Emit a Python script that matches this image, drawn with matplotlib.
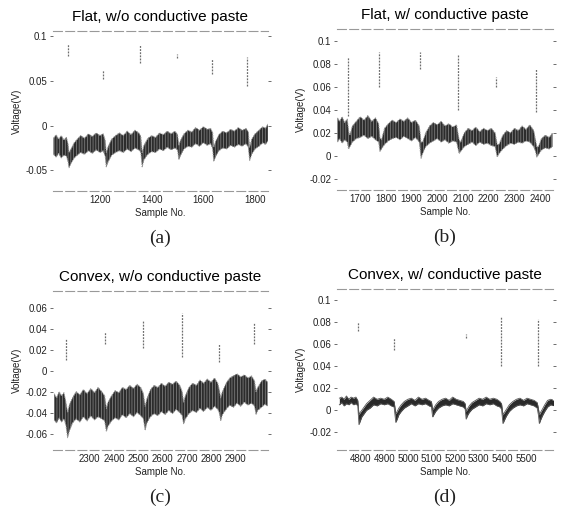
import matplotlib
matplotlib.use("Agg")
import matplotlib.pyplot as plt

# ---------------- data ----------------
titles = ["Flat, w/o conductive paste", "Flat, w/ conductive paste",
          "Convex, w/o conductive paste", "Convex, w/ conductive paste"]
letters = ["(a)", "(b)", "(c)", "(d)"]

# Panel (a)
a_x = [1020,1030,1040,1050,1060,1070,1076,1080,1088,1100,1112,1125,1140,1155,1170,1185,1200,1212,1220,1224,
       1232,1245,1260,1275,1290,1305,1320,1335,1350,1358,1363,1370,1385,1400,1415,1430,1445,1460,1475,1490,
       1500,1505,1512,1525,1540,1555,1570,1585,1600,1615,1628,1636,1640,1648,1660,1675,1690,1705,1720,1735,
       1750,1765,1774,1779,1787,1800,1815,1830,1840,1850]
a_lo = [-0.032,-0.035,-0.031,-0.036,-0.033,-0.034,-0.040,-0.047,-0.042,-0.036,-0.033,-0.030,-0.032,-0.028,-0.031,-0.027,-0.030,-0.028,-0.034,-0.046,
        -0.040,-0.033,-0.030,-0.028,-0.030,-0.026,-0.029,-0.025,-0.027,-0.030,-0.046,-0.038,-0.032,-0.029,-0.030,-0.026,-0.028,-0.024,-0.027,-0.025,
        -0.027,-0.038,-0.033,-0.026,-0.023,-0.024,-0.020,-0.023,-0.019,-0.022,-0.020,-0.026,-0.040,-0.034,-0.028,-0.025,-0.026,-0.022,-0.024,-0.021,
        -0.023,-0.020,-0.024,-0.039,-0.032,-0.026,-0.023,-0.019,-0.021,-0.017]
a_hi = [-0.014,-0.010,-0.015,-0.011,-0.016,-0.013,-0.020,-0.030,-0.026,-0.019,-0.015,-0.011,-0.014,-0.009,-0.012,-0.008,-0.011,-0.009,-0.016,-0.030,
        -0.023,-0.015,-0.011,-0.008,-0.011,-0.006,-0.010,-0.005,-0.008,-0.012,-0.030,-0.022,-0.014,-0.011,-0.013,-0.008,-0.010,-0.006,-0.009,-0.006,
        -0.010,-0.022,-0.016,-0.009,-0.005,-0.007,-0.002,-0.005,-0.001,-0.004,-0.003,-0.008,-0.024,-0.017,-0.010,-0.006,-0.008,-0.004,-0.006,-0.002,
        -0.005,-0.003,-0.007,-0.024,-0.015,-0.009,-0.005,-0.001,-0.003,0.002]
a_spike_x = [1076, 1213, 1355, 1497, 1632, 1770]
a_spike_lo = [0.078, 0.052, 0.070, 0.076, 0.058, 0.045]
a_spike_hi = [0.092, 0.062, 0.090, 0.080, 0.075, 0.077]

# Panel (b)
b_x = [1612,1620,1630,1640,1650,1655,1660,1670,1685,1700,1715,1730,1745,1760,1772,1777,1783,1795,1810,1825,
       1840,1855,1870,1885,1900,1915,1930,1937,1943,1955,1970,1985,2000,2015,2030,2045,2060,2075,2085,2091,
       2105,2120,2135,2150,2165,2180,2195,2210,2225,2233,2240,2255,2270,2285,2300,2315,2330,2345,2360,2375,
       2382,2387,2393,2405,2420,2435,2448]
b_lo = [0.012,0.015,0.011,0.014,0.012,0.006,0.008,0.012,0.015,0.016,0.018,0.015,0.017,0.014,0.012,0.004,0.006,0.010,0.013,0.015,
        0.016,0.014,0.017,0.015,0.013,0.016,0.012,-0.002,0.002,0.008,0.011,0.013,0.015,0.012,0.014,0.011,0.013,0.012,0.002,0.004,
        0.008,0.010,0.012,0.009,0.012,0.010,0.011,0.009,0.008,-0.001,0.002,0.006,0.009,0.011,0.010,0.012,0.011,0.013,0.012,0.008,
        0.004,-0.001,0.001,0.005,0.007,0.006,0.008]
b_hi = [0.033,0.030,0.034,0.029,0.032,0.022,0.018,0.026,0.030,0.034,0.031,0.035,0.030,0.033,0.028,0.016,0.014,0.024,0.028,0.031,
        0.029,0.032,0.030,0.033,0.029,0.031,0.026,0.012,0.012,0.020,0.026,0.029,0.027,0.030,0.026,0.028,0.025,0.027,0.014,0.012,
        0.020,0.024,0.022,0.025,0.021,0.024,0.022,0.024,0.020,0.010,0.010,0.018,0.022,0.020,0.024,0.022,0.026,0.023,0.027,0.022,
        0.014,0.008,0.008,0.015,0.018,0.016,0.020]
b_spike_x = [1652, 1774, 1932, 2081, 2229, 2383]
b_spike_lo = [0.035, 0.060, 0.075, 0.040, 0.060, 0.038]
b_spike_hi = [0.086, 0.090, 0.090, 0.088, 0.068, 0.075]

# Panel (c)
c_x = [2155,2165,2175,2185,2195,2203,2210,2218,2230,2245,2260,2275,2290,2305,2320,2335,2350,2362,2369,2376,
       2390,2405,2420,2435,2450,2465,2480,2495,2510,2521,2528,2535,2550,2565,2580,2595,2610,2625,2640,2655,
       2670,2680,2686,2693,2708,2723,2738,2753,2768,2783,2798,2813,2826,2832,2838,2845,2860,2875,2890,2905,
       2920,2935,2950,2965,2977,2983,2990,3005,3020,3030]
c_lo = [-0.047,-0.050,-0.045,-0.049,-0.046,-0.052,-0.064,-0.057,-0.050,-0.046,-0.049,-0.044,-0.048,-0.043,-0.047,-0.044,-0.046,-0.048,-0.058,-0.053,
        -0.048,-0.045,-0.047,-0.042,-0.045,-0.041,-0.044,-0.040,-0.043,-0.046,-0.057,-0.050,-0.044,-0.041,-0.043,-0.039,-0.042,-0.038,-0.041,-0.037,
        -0.040,-0.043,-0.051,-0.046,-0.041,-0.038,-0.040,-0.036,-0.039,-0.035,-0.038,-0.034,-0.037,-0.040,-0.048,-0.042,-0.037,-0.033,-0.035,-0.031,
        -0.034,-0.030,-0.033,-0.031,-0.034,-0.042,-0.038,-0.035,-0.032,-0.034]
c_hi = [-0.022,-0.026,-0.020,-0.024,-0.021,-0.030,-0.040,-0.032,-0.026,-0.020,-0.023,-0.018,-0.022,-0.017,-0.021,-0.016,-0.020,-0.024,-0.036,-0.030,
        -0.024,-0.019,-0.021,-0.016,-0.018,-0.014,-0.017,-0.013,-0.016,-0.022,-0.034,-0.027,-0.018,-0.014,-0.016,-0.012,-0.015,-0.011,-0.013,-0.010,
        -0.014,-0.020,-0.030,-0.024,-0.016,-0.012,-0.014,-0.009,-0.012,-0.008,-0.011,-0.007,-0.012,-0.018,-0.026,-0.020,-0.012,-0.007,-0.005,-0.003,
        -0.006,-0.004,-0.007,-0.005,-0.010,-0.020,-0.016,-0.010,-0.008,-0.011]
c_spike_x = [2203, 2362, 2521, 2679, 2831, 2976]
c_spike_lo = [0.010, 0.025, 0.022, 0.013, 0.008, 0.025]
c_spike_hi = [0.030, 0.037, 0.047, 0.055, 0.025, 0.045]

# Panel (d)
d_x = [4710,4720,4730,4740,4750,4760,4770,4780,4788,4793,4798,4805,4815,4825,4840,4855,4870,4885,4900,4915,
       4930,4942,4949,4955,4962,4972,4985,5000,5015,5030,5045,5060,5075,5090,5100,5105,5110,5118,5130,5145,
       5160,5175,5190,5205,5220,5235,5243,5247,5252,5260,5272,5287,5302,5317,5332,5347,5362,5377,5390,5397,
       5403,5409,5418,5430,5445,5460,5475,5490,5505,5520,5535,5548,5553,5557,5562,5570,5580,5592,5605,5620,
       5635,5650,5665]
d_lo = [0.005,0.007,0.004,0.006,0.005,0.007,0.005,0.006,0.004,-0.013,-0.010,-0.006,-0.003,0.000,0.002,0.005,0.004,0.006,0.005,0.006,
        0.004,0.003,-0.011,-0.008,-0.004,-0.001,0.002,0.004,0.006,0.004,0.006,0.005,0.006,0.004,0.003,-0.006,-0.004,-0.001,0.002,0.004,
        0.005,0.004,0.006,0.005,0.004,0.003,0.001,-0.008,-0.005,-0.002,0.001,0.003,0.005,0.004,0.006,0.005,0.006,0.004,0.003,0.001,
        -0.012,-0.009,-0.005,-0.001,0.002,0.004,0.005,0.004,0.006,0.005,0.004,0.002,-0.004,-0.012,-0.009,-0.005,-0.001,0.003,0.005,0.004,
        0.006,0.005,0.004]
d_hi = [0.011,0.012,0.010,0.013,0.010,0.012,0.011,0.012,0.009,-0.004,-0.002,0.000,0.003,0.006,0.009,0.012,0.010,0.011,0.010,0.012,
        0.010,0.008,-0.003,-0.001,0.002,0.005,0.008,0.010,0.011,0.009,0.012,0.010,0.011,0.009,0.008,0.001,0.002,0.005,0.008,0.010,
        0.011,0.009,0.012,0.010,0.009,0.008,0.006,-0.001,0.001,0.004,0.007,0.009,0.011,0.010,0.012,0.010,0.011,0.010,0.008,0.006,
        -0.004,-0.002,0.001,0.005,0.008,0.010,0.011,0.009,0.011,0.010,0.009,0.007,0.002,-0.004,-0.002,0.001,0.005,0.009,0.010,0.009,
        0.011,0.010,0.009]
d_spike_x = [4788, 4942, 5247, 5396, 5553]
d_spike_lo = [0.072, 0.055, 0.066, 0.040, 0.040]
d_spike_hi = [0.080, 0.066, 0.069, 0.085, 0.083]

a_xticks = [1200, 1400, 1600, 1800]
b_xticks = [1700, 1800, 1900, 2000, 2100, 2200, 2300, 2400]
c_xticks = [2300, 2400, 2500, 2600, 2700, 2800, 2900]
d_xticks = [4800, 4900, 5000, 5100, 5200, 5300, 5400, 5500]
a_yticks = [-0.05, 0, 0.05, 0.1]
a_ylabels = ["-0.05", "0", "0.05", "0.1"]
b_yticks = [-0.02, 0, 0.02, 0.04, 0.06, 0.08, 0.1]
b_ylabels = ["-0.02", "0", "0.02", "0.04", "0.06", "0.08", "0.1"]
c_yticks = [-0.06, -0.04, -0.02, 0, 0.02, 0.04, 0.06]
c_ylabels = ["-0.06", "-0.04", "-0.02", "0", "0.02", "0.04", "0.06"]

# ---------------- figure ----------------
W, H = 563, 511
plt.rcParams['font.family'] = ['Liberation Sans', 'DejaVu Sans']
plt.rcParams['hatch.linewidth'] = 0.5
fig = plt.figure(figsize=(W / 100, H / 100), dpi=100)

def rect(l, t, r, b):
    return [l / W, (H - b) / H, (r - l) / W, (b - t) / H]

panels = [
    dict(rect=rect(53, 31, 268, 191), x=a_x, lo=a_lo, hi=a_hi, sx=a_spike_x, slo=a_spike_lo, shi=a_spike_hi,
         xlim=(1018, 1850), ylim=(-0.073, 0.106), xt=a_xticks, yt=a_yticks, yl=a_ylabels, thin=False),
    dict(rect=rect(337, 29, 553, 190), x=b_x, lo=b_lo, hi=b_hi, sx=b_spike_x, slo=b_spike_lo, shi=b_spike_hi,
         xlim=(1610, 2450), ylim=(-0.0295, 0.110), xt=b_xticks, yt=b_yticks, yl=b_ylabels, thin=False),
    dict(rect=rect(53, 291, 268, 450), x=c_x, lo=c_lo, hi=c_hi, sx=c_spike_x, slo=c_spike_lo, shi=c_spike_hi,
         xlim=(2150, 3032), ylim=(-0.0757, 0.076), xt=c_xticks, yt=c_yticks, yl=c_ylabels, thin=False),
    dict(rect=rect(337, 289, 553, 450), x=d_x, lo=d_lo, hi=d_hi, sx=d_spike_x, slo=d_spike_lo, shi=d_spike_hi,
         xlim=(4700, 5615), ylim=(-0.036, 0.110), xt=d_xticks, yt=b_yticks, yl=b_ylabels, thin=True),
]

for i, p in enumerate(panels):
    ax = fig.add_axes(p['rect'])
    if p['thin']:
        ax.fill_between(p['x'], p['lo'], p['hi'], color='#2a2a2a', lw=0)
        ax.plot(p['x'], p['lo'], color='#555555', lw=0.6)
        ax.plot(p['x'], p['hi'], color='#555555', lw=0.6)
    else:
        ax.fill_between(p['x'], p['lo'], p['hi'], facecolor='#2c2c2c', edgecolor='#8a8a8a',
                        hatch='||||||', lw=0)
        ax.plot(p['x'], p['lo'], color='#9a9a9a', lw=0.7, ls=(0, (1.5, 1)))
        ax.plot(p['x'], p['hi'], color='#9a9a9a', lw=0.7, ls=(0, (1.5, 1)))
    ax.vlines(p['sx'], p['slo'], p['shi'], colors='#6e6e6e', lw=0.9, linestyles=(0, (1.5, 1)))
    ax.set_xlim(*p['xlim'])
    ax.set_ylim(*p['ylim'])
    ax.set_xticks(p['xt'])
    ax.set_xticklabels([str(v) for v in p['xt']])
    ax.set_yticks(p['yt'])
    ax.set_yticklabels(p['yl'])
    ax.tick_params(axis='both', labelsize=7, colors='#555555', labelcolor='#222222',
                   length=2.5, width=0.6, pad=1.5)
    ax.tick_params(axis='x', length=0, pad=3)
    ax.tick_params(axis='y', right=True)
    for side in ('left', 'right'):
        ax.spines[side].set_visible(False)
    for side in ('top', 'bottom'):
        ax.spines[side].set_color('#999999')
        ax.spines[side].set_linewidth(0.8)
        ax.spines[side].set_linestyle((0, (8, 3)))
    ax.set_title(titles[i], fontsize=11, pad=7)
    ax.set_xlabel("Sample No.", fontsize=7, labelpad=2, color='#222222')
    ax.set_ylabel("Voltage(V)", fontsize=7, color='#222222')
    ax.yaxis.set_label_coords(-0.145, 0.5)
    ax.text(0.5, -0.295, letters[i], transform=ax.transAxes, ha='center', va='center',
            fontsize=14, family=['Liberation Serif', 'DejaVu Serif'], color='#222222')

fig.savefig("out.png", dpi=100)
